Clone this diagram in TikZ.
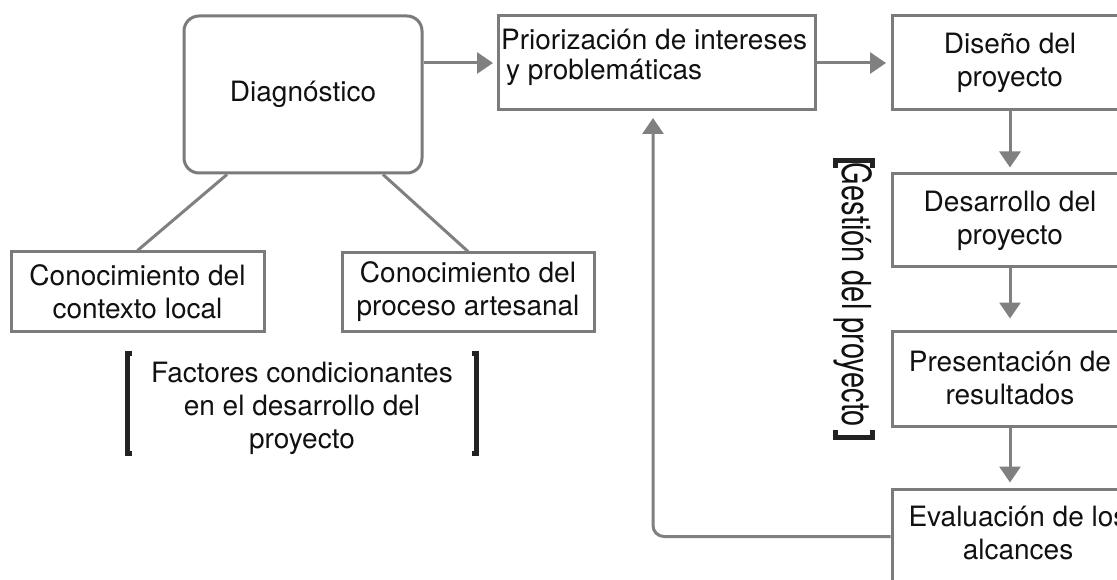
\documentclass[tikz,border=0pt]{standalone}
\usepackage{fontspec}
\setmainfont{TeX Gyre Heros}
\usepackage{graphicx}
\usetikzlibrary{arrows.meta,calc}
\definecolor{boxgray}{HTML}{7B7B7B}
\definecolor{linegray}{HTML}{808080}
\definecolor{txt}{HTML}{111111}
\definecolor{brkcol}{HTML}{222222}
\begin{document}
\begin{tikzpicture}[x=1pt,y=-1pt,
  every node/.style={font=\fontsize{28}{33}\selectfont, text=txt, inner sep=0pt},
  box/.style={draw=boxgray, line width=3pt, align=center},
  conn/.style={draw=linegray, line width=3pt},
  arr/.style={conn, -{Triangle[length=16pt,width=21pt]}, shorten >=5pt},
  brk/.style={draw=brkcol, line width=4.5pt, line cap=butt, line join=miter}]
\useasboundingbox (0,0) rectangle (1117,580);
\fill[white] (0,0) rectangle (1117,580);
\clip (0,0) rectangle (1117,580);

% boxes
\node[box, rounded corners=15pt, minimum width=238pt, minimum height=157pt] (diag) at (303,94.5) {Diagnóstico};
\node[box, minimum width=317pt, minimum height=94pt] (prio) at (656.5,63) {};
\node[anchor=west, align=left, font=\fontsize{28}{30}\selectfont] (priotxt) at (501,57) {Priorización de intereses\\\hspace*{5pt}y problemáticas};
\node[box, minimum width=236pt, minimum height=94pt] (dis) at (1010,63) {Diseño del\\proyecto};
\node[box, minimum width=236pt, minimum height=93pt] (des) at (1010,220.5) {Desarrollo del\\proyecto};
\node[box, minimum width=236pt, minimum height=95pt] (pres) at (1010,378.5) {Presentación de\\resultados};
\node[box, minimum width=236pt, minimum height=95pt] (eval) at (1010,536.5) {};
\node[align=center] (evaltxt) at (1018,533) {Evaluación de los\\alcances};
\node[box, minimum width=253pt, minimum height=79pt] (ctx) at (137.5,291.5) {Conocimiento del\\contexto local};
\node[box, minimum width=252pt, minimum height=78pt] (proc) at (468,292) {Conocimiento del\\proceso artesanal};
\node[align=center] (fact) at (302,408) {Factores condicionantes\\en el desarrollo del\\proyecto};
\node[rotate=-90, font=\fontsize{29}{33}\selectfont] (gest) at (853,295) {\scalebox{1}[1.38]{Gestión del proyecto}};

% connectors
\draw[arr, shorten >=3.5pt] (diag.east |- prio.west) -- (prio.west);
\draw[arr, shorten >=4.5pt] (prio.east) -- (dis.west);
\draw[arr] (dis.south) -- (des.north);
\draw[arr, shorten >=11pt] (des.south) -- (pres.north);
\draw[arr] (pres.south) -- (eval.north);
\draw[arr, rounded corners=11pt, shorten >=6.5pt] (eval.west) -| ([xshift=-3.5pt]prio.south);
\draw[conn] ([xshift=-76pt]diag.south) -- (ctx.north);
\draw[conn] ([xshift=80pt]diag.south) -- (proc.north);

% brackets
\draw[brk] (132,353.5) -- (127.5,353.5) -- (127.5,453.5) -- (132,453.5);
\draw[brk] (472,353.5) -- (476.5,353.5) -- (476.5,453.5) -- (472,453.5);
\draw[brk] (835.5,168) -- (835.5,160.5) -- (872.5,160.5) -- (872.5,168);
\draw[brk] (835.5,430) -- (835.5,437.5) -- (872.5,437.5) -- (872.5,430);
\end{tikzpicture}
\end{document}
